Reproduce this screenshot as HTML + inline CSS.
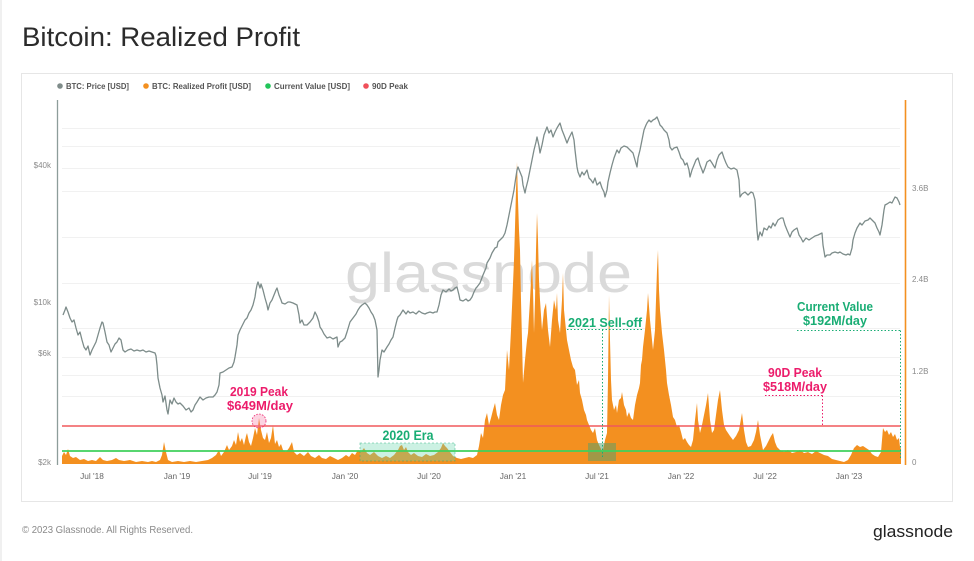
<!DOCTYPE html>
<html><head><meta charset="utf-8">
<style>
html,body{margin:0;padding:0;background:#fff;}
svg{display:block;}
text{font-family:"Liberation Sans",Arial,sans-serif;}
</style></head>
<body>
<svg width="974" height="561" viewBox="0 0 974 561" xmlns="http://www.w3.org/2000/svg">
<rect x="0" y="0" width="974" height="561" fill="#fff"/>
<line x1="1" y1="0" x2="1" y2="561" stroke="#ececec" stroke-width="1.5"/>
<text x="22" y="46" font-size="27" fill="#2b2b2b" textLength="278" lengthAdjust="spacingAndGlyphs">Bitcoin: Realized Profit</text>
<rect x="21.5" y="73.5" width="931" height="428" fill="#fff" stroke="#e6e6e6" stroke-width="1"/>

<!-- legend -->
<circle cx="60" cy="86" r="2.8" fill="#7f8c8a"/>
<text x="66" y="88.8" font-size="7.8" font-weight="bold" fill="#555" textLength="63" lengthAdjust="spacingAndGlyphs">BTC: Price [USD]</text>
<circle cx="146" cy="86" r="2.8" fill="#f39020"/>
<text x="152" y="88.8" font-size="7.8" font-weight="bold" fill="#555" textLength="99" lengthAdjust="spacingAndGlyphs">BTC: Realized Profit [USD]</text>
<circle cx="268" cy="86" r="2.8" fill="#22c55a"/>
<text x="274" y="88.8" font-size="7.8" font-weight="bold" fill="#555" textLength="76" lengthAdjust="spacingAndGlyphs">Current Value [USD]</text>
<circle cx="366" cy="86" r="2.8" fill="#f0505a"/>
<text x="372" y="88.8" font-size="7.8" font-weight="bold" fill="#555" textLength="36" lengthAdjust="spacingAndGlyphs">90D Peak</text>

<!-- gridlines -->
<g stroke="#f1f1f1" stroke-width="1">
<line x1="62" y1="128.5" x2="900" y2="128.5"/>
<line x1="62" y1="146.5" x2="900" y2="146.5"/>
<line x1="62" y1="168.5" x2="900" y2="168.5"/>
<line x1="62" y1="191.5" x2="900" y2="191.5"/>
<line x1="62" y1="237.5" x2="900" y2="237.5"/>
<line x1="62" y1="283.5" x2="900" y2="283.5"/>
<line x1="62" y1="328.5" x2="900" y2="328.5"/>
<line x1="62" y1="357.5" x2="900" y2="357.5"/>
<line x1="62" y1="375.5" x2="900" y2="375.5"/>
<line x1="62" y1="396.5" x2="900" y2="396.5"/>
</g>

<!-- watermark -->
<text x="345" y="292" font-size="56" fill="#dadada" textLength="287" lengthAdjust="spacingAndGlyphs">glassnode</text>

<!-- axes -->
<line x1="57.5" y1="100" x2="57.5" y2="465" stroke="#8d9d9a" stroke-width="1.3"/>
<line x1="905.5" y1="100" x2="905.5" y2="465" stroke="#f39020" stroke-width="1.6"/>

<g font-size="8" fill="#8a8a8a" text-anchor="end">
<text x="51" y="168">$40k</text>
<text x="51" y="305">$10k</text>
<text x="51" y="356">$6k</text>
<text x="51" y="465">$2k</text>
</g>
<g font-size="8" fill="#8a8a8a">
<text x="912" y="191">3.6B</text>
<text x="912" y="282">2.4B</text>
<text x="912" y="374">1.2B</text>
<text x="912" y="465">0</text>
</g>
<g font-size="8.3" fill="#666" text-anchor="middle">
<text x="92" y="479">Jul '18</text>
<text x="177" y="479">Jan '19</text>
<text x="260" y="479">Jul '19</text>
<text x="345" y="479">Jan '20</text>
<text x="429" y="479">Jul '20</text>
<text x="513" y="479">Jan '21</text>
<text x="597" y="479">Jul '21</text>
<text x="681" y="479">Jan '22</text>
<text x="765" y="479">Jul '22</text>
<text x="849" y="479">Jan '23</text>
</g>

<!-- orange realized profit area -->
<path fill="#f39020" d="M62,464 L62,456 64,452 66,455 68,449 70,456 73,458 76,457 80,460 84,459 88,461 92,460 96,461 100,457 103,460 107,461 112,460 116,458 119,460 124,461 130,460 136,462 142,461 148,462 152,461 156,462 160,460 162,455 164,442 166,452 168,460 172,462 178,461 184,462 190,461 196,462 202,461 208,460 212,458 216,455 219,450 221,456 224,452 227,445 229,450 232,446 234,440 236,445 238,432 240,442 242,438 244,445 246,436 247,433 249,442 251,446 253,438 255,428 257,435 259,418 261,430 263,438 265,440 267,432 269,443 271,438 273,425 275,444 277,440 279,447 281,444 283,450 286,452 289,448 292,442 294,452 297,455 300,453 304,456 308,452 311,456 315,458 319,455 322,458 326,459 330,456 334,458 338,460 342,458 346,455 349,457 352,453 355,455 358,450 361,452 364,448 367,453 370,455 374,452 378,456 382,458 386,456 390,458 394,455 398,450 400,446 402,445 404,450 406,447 408,452 411,455 414,453 418,456 422,457 426,454 430,456 434,455 438,452 441,448 443,443 445,446 447,448 450,452 453,456 457,458 461,459 465,458 469,457 473,458 477,455 479,446 481,433 483,438 485,420 487,413 489,425 491,418 493,410 495,403 497,415 499,420 501,405 503,395 505,390 507,350 509,370 511,330 512,307 514,260 515,227 516,190 517,162 518,200 519,230 520,250 521,300 522,340 523,383 525,360 527,340 528,333 530,300 531,280 532,260 533,290 534,333 535,300 536,250 537,213 538,240 539,280 540,300 542,330 544,310 546,303 548,330 550,347 552,320 554,300 556,310 557,293 558,320 560,333 562,300 563,273 564,310 566,330 567,340 569,350 571,360 573,367 575,370 577,385 579,380 580,393 582,400 584,410 586,415 587,420 589,425 591,430 593,433 595,428 597,440 599,445 600,447 602,451 603,450 605,440 607,433 608,380 609,295 610,340 611,380 612,400 614,410 616,405 617,413 619,400 621,398 622,392 624,405 626,410 627,417 629,412 631,418 633,420 635,405 637,395 639,388 640,383 641,365 642,360 643,347 645,330 647,310 648,293 650,320 652,340 653,350 655,330 656,300 657,270 658,250 659,290 660,310 662,333 664,350 666,370 667,383 669,395 671,405 673,417 675,420 677,427 679,425 681,432 683,440 685,438 687,442 689,445 691,447 693,440 695,420 697,403 698,420 700,433 702,425 704,415 706,405 708,393 710,420 712,433 714,430 716,415 718,400 720,390 722,410 724,425 726,430 728,433 730,436 733,440 736,436 739,430 742,413 744,430 746,442 748,447 751,446 754,440 756,432 758,420 760,435 763,450 766,446 769,440 771,436 773,433 775,442 777,447 780,450 784,452 788,450 792,453 796,452 800,450 804,453 808,452 812,454 816,451 820,453 824,455 828,456 832,459 836,460 840,461 844,462 848,460 851,455 854,448 857,445 860,447 863,446 866,448 869,450 872,454 875,456 878,457 881,452 882,440 883,428 885,432 887,430 889,435 891,432 893,437 895,434 897,440 899,438 900,447 901,449 901,464 Z"/>

<!-- highlight boxes -->
<rect x="360" y="443" width="95" height="18" fill="rgba(110,215,175,0.35)" stroke="rgba(30,170,120,0.55)" stroke-width="0.8" stroke-dasharray="2,2"/>
<rect x="588" y="443" width="28" height="18" fill="rgba(80,160,110,0.5)"/>

<!-- horizontal reference lines -->
<line x1="62" y1="426" x2="901" y2="426" stroke="#f0585c" stroke-width="1.6"/>
<line x1="62" y1="451" x2="901" y2="451" stroke="#3fd05c" stroke-width="1.8"/>

<!-- price line -->
<polyline fill="none" stroke="#7d8c8a" stroke-width="1.3" stroke-linejoin="round" points="63,315 65,310 66,307 68,312 70,318 72,322 74,320 76,328 78,335 80,332 82,340 84,347 86,350 88,346 90,355 92,350 94,346 96,342 98,335 100,328 102,322 103,323 105,332 107,342 109,345 111,352 113,348 115,344 117,342 119,338 121,340 123,350 125,352 128,350 131,349 134,351 137,350 140,351 143,350 146,352 149,351 152,352 155,353 156,356 157,365 158,378 160,388 162,395 163,402 165,396 167,410 168,414 170,400 172,404 174,398 176,402 178,404 180,403 183,406 186,410 189,408 191,412 193,410 195,405 197,402 200,397 203,400 206,398 209,397 213,397 215,395 217,392 219,385 220,373 223,372 226,370 229,368 232,367 234,362 235,357 237,345 238,335 240,330 242,326 245,320 247,318 249,313 251,310 253,305 255,297 256,290 257,285 258,282 260,288 261,284 263,290 265,298 267,305 268,310 270,303 272,300 274,295 276,290 277,288 279,295 281,300 282,303 285,304 288,302 290,302 293,303 295,304 297,305 299,315 300,323 302,320 304,325 307,325 310,322 313,318 315,312 317,316 319,322 320,327 322,330 324,334 327,338 330,337 333,339 337,337 338,347 340,342 342,341 345,338 347,332 350,322 353,318 356,314 358,310 360,307 362,305 365,303 367,305 369,308 371,312 373,315 375,320 377,330 378,377 379,370 380,360 382,350 384,352 387,347 389,344 391,340 393,337 395,328 397,320 398,317 400,315 403,310 406,314 408,311 410,313 413,312 416,314 419,311 422,313 425,314 427,313 430,312 433,313 435,312 437,312 439,305 440,300 441,295 443,290 446,292 449,289 451,291 453,290 455,288 457,287 459,295 460,300 463,301 466,299 468,301 470,300 472,297 474,292 476,288 477,287 480,283 483,275 486,268 487,263 490,258 492,253 495,248 497,247 498,242 500,240 503,237 505,233 507,225 509,215 510,210 512,200 514,190 515,183 517,170 518,167 520,172 522,177 523,185 525,193 526,188 528,180 530,170 532,160 534,150 536,142 537,137 539,146 540,153 542,145 544,135 547,127 549,133 551,130 553,137 555,132 557,128 560,123 562,130 564,135 567,143 569,138 571,134 572,132 574,140 575,150 577,167 578,172 580,177 582,172 584,175 587,170 589,178 591,180 593,183 595,178 597,185 600,182 602,188 604,192 605,197 607,190 608,182 610,173 612,165 614,158 617,150 619,153 621,148 624,146 627,147 630,150 632,152 633,153 635,160 637,167 638,158 640,150 642,140 644,130 646,125 647,123 649,120 651,122 653,120 655,119 657,117 659,122 660,125 662,127 664,130 667,133 669,140 670,147 672,150 674,148 677,147 679,152 681,158 683,160 685,165 687,163 689,170 690,177 692,170 694,165 696,160 698,158 700,165 702,170 703,173 705,168 707,162 710,160 712,163 715,168 717,160 719,155 722,152 724,158 726,163 728,167 731,169 734,168 737,170 739,180 740,197 742,194 745,192 748,195 751,192 753,193 755,200 756,215 757,230 758,240 760,232 762,236 764,228 767,230 769,226 771,228 773,223 775,226 778,220 781,218 783,218 785,225 787,230 790,237 792,232 794,230 797,228 799,235 801,238 803,242 806,238 809,240 812,238 815,236 818,235 820,234 822,233 823,245 825,257 827,255 830,255 832,253 835,252 838,253 840,252 843,254 846,255 848,254 850,255 852,248 853,240 855,233 857,228 860,223 862,225 865,221 868,220 870,218 872,220 875,223 877,228 879,232 880,235 882,225 884,210 885,205 887,204 890,202 892,203 894,199 895,197 897,198 899,202 900,205"/>

<!-- annotations -->
<circle cx="259" cy="421" r="7" fill="rgba(245,130,170,0.35)" stroke="#ec1c6b" stroke-width="0.8" stroke-dasharray="1.5,1.5"/>
<g font-weight="bold" text-anchor="middle">
<text x="259" y="396" font-size="13" fill="#ec1c6b" textLength="58" lengthAdjust="spacingAndGlyphs">2019 Peak</text>
<text x="260" y="410" font-size="13" fill="#ec1c6b" textLength="66" lengthAdjust="spacingAndGlyphs">$649M/day</text>
<text x="408" y="440" font-size="13.5" fill="#19ad74" textLength="51" lengthAdjust="spacingAndGlyphs">2020 Era</text>
<text x="605" y="327" font-size="12.5" fill="#19ad74" textLength="74" lengthAdjust="spacingAndGlyphs">2021 Sell-off</text>
<text x="835" y="311" font-size="12.5" fill="#19ad74" textLength="76" lengthAdjust="spacingAndGlyphs">Current Value</text>
<text x="835" y="325" font-size="12.5" fill="#19ad74" textLength="64" lengthAdjust="spacingAndGlyphs">$192M/day</text>
<text x="795" y="377" font-size="12.5" fill="#ec1c6b" textLength="54" lengthAdjust="spacingAndGlyphs">90D Peak</text>
<text x="795" y="391" font-size="12.5" fill="#ec1c6b" textLength="64" lengthAdjust="spacingAndGlyphs">$518M/day</text>
</g>
<g fill="none" stroke-width="1" stroke-dasharray="1.5,2">
<polyline points="567,329.5 602.5,329.5 643,329.5" stroke="#19ad74"/>
<line x1="602.5" y1="329.5" x2="602.5" y2="458" stroke="#19ad74"/>
<line x1="797" y1="330.5" x2="900.5" y2="330.5" stroke="#19ad74"/>
<line x1="900.5" y1="330.5" x2="900.5" y2="458" stroke="#19ad74"/>
<line x1="765" y1="395.5" x2="822.5" y2="395.5" stroke="#ec1c6b"/>
<line x1="822.5" y1="395.5" x2="822.5" y2="425" stroke="#ec1c6b"/>
</g>

<!-- footer -->
<text x="22" y="533" font-size="10" fill="#8a8a8a" textLength="171" lengthAdjust="spacingAndGlyphs">© 2023 Glassnode. All Rights Reserved.</text>
<text x="873" y="537" font-size="16.5" fill="#222" textLength="80" lengthAdjust="spacingAndGlyphs">glassnode</text>
</svg>
</body></html>
